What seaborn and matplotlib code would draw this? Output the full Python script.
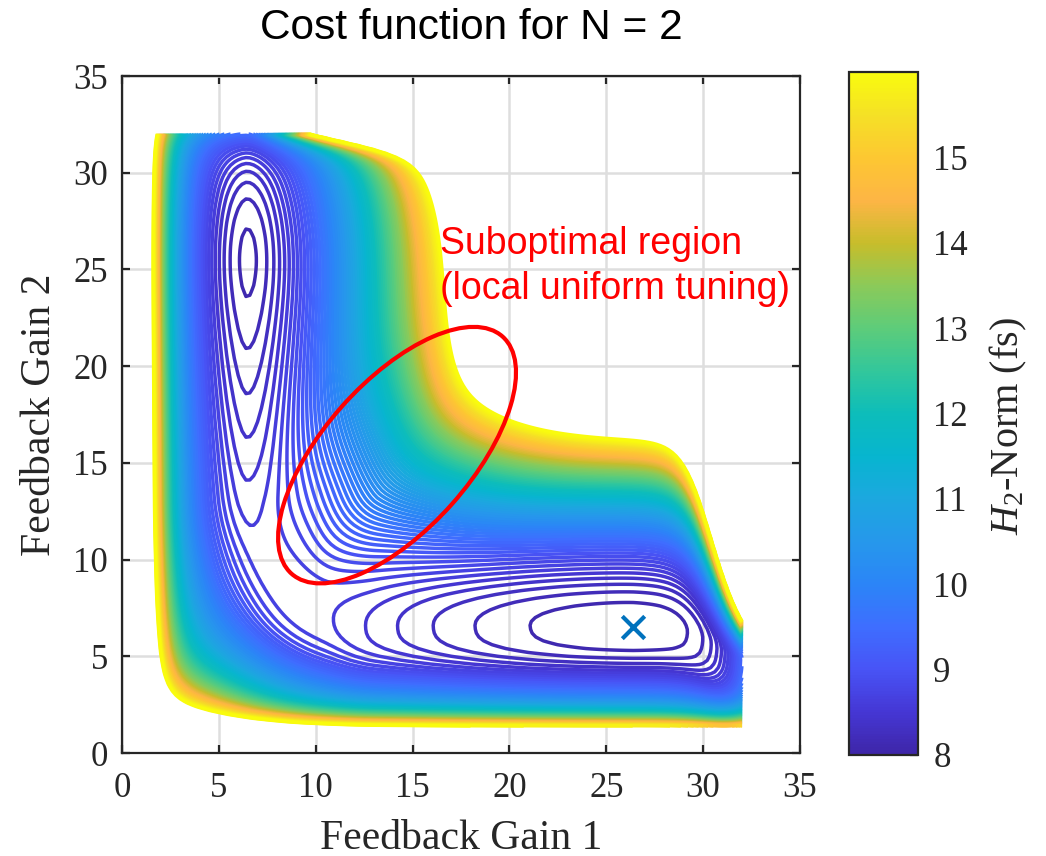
import numpy as np
import matplotlib
matplotlib.use("Agg")
import matplotlib.pyplot as plt
import seaborn as sns
from matplotlib.colors import LinearSegmentedColormap, Normalize
from matplotlib.cm import ScalarMappable
from matplotlib.patches import Ellipse

# ---------------- data ----------------
gain_range = [1.4, 32.0]          # sampled feedback-gain domain
valley_gain1 = [6.4, 26.4]        # local / global minimum, gain 1
valley_gain2 = [25.5, 6.5]        # local / global minimum, gain 2
valley_cost = [8.04, 8.02]        # cost at the two minima (fs)
saddle_cost = 8.64                # cost at the pass between the minima (fs)
optimum = [26.4, 6.5]             # marked optimum (x)
level_start, level_stop, level_step = 8.1, 16.0, 0.1
cbar_ticks = [8, 9, 10, 11, 12, 13, 14, 15]
axis_ticks = [0, 5, 10, 15, 20, 25, 30, 35]
region_center = [14.2, 15.4]
region_size = [16.4, 7.6]
region_angle = 48.4
region_text = ["Suboptimal region", "(local uniform tuning)"]
region_text_pos = [16.4, 25.8, 23.45]
parula_values = [8.0, 8.5, 9.0, 9.5, 10.0, 10.5, 11.0, 11.5, 12.0, 12.5,
                 13.0, 13.5, 14.0, 14.5, 15.0, 15.5, 16.0]
parula_colors = ["#3e26a8", "#4537d5", "#4854f6", "#3e6eff", "#2b85f7",
                 "#2698eb", "#1ca8df", "#07b5cf", "#0dbdba", "#32c79b",
                 "#5dcc7a", "#8bca59", "#c7bd2b", "#fdb545", "#fdc732",
                 "#f5e026", "#f9fb0e"]

# ---------------- cost surface ----------------
def sig(z):
    return 1.0 / (1.0 + np.exp(-z))

def softplus(z, s):
    return s * np.logaddexp(0.0, z / s)

g = np.arange(gain_range[0], gain_range[1] + 1e-9, 0.2)
X, Y = np.meshgrid(g, g)

# signed distance to the L-shaped valley floor (rounded corner)
R = 6.8
u = X - valley_gain1[0]
v = Y - (valley_gain2[1] - 2.0 * sig((X - 30.5) / 0.8))
qx, qy = R - u, R - v
nqx = np.clip(-qx, 1e-9, None)
nqy = np.clip(-qy, 1e-9, None)
neg = (nqx ** -2 + nqy ** -2) ** -0.5
N = np.sqrt(np.clip(qx, 0, None) ** 2 + np.clip(qy, 0, None) ** 2) - neg
m_sdf = R - N
m_soft = (np.clip(u, 1e-6, None) ** -4 + np.clip(v, 1e-6, None) ** -4) ** -0.25
lam = np.exp(-np.clip(m_sdf, 0, None) / 3.0)
m = np.where(m_sdf > 0, lam * m_sdf + (1 - lam) * m_soft, m_sdf)
w = sig((v - u) / 1.5)                 # 1 on the vertical arm, 0 on the horizontal arm
kappa = np.exp(-((v - u) / 6.0) ** 2)  # 1 along the corner diagonal
mp = np.clip(m, 0, None)
mn = np.clip(-m, 0, None)

topmult = 1 + 4.5 * np.exp((Y - 32) / 0.4) + 0.45 * np.exp((Y - 32) / 2.0)
rB = 1 + 28 * np.exp((X - 32) / 0.65)
PA = 0.13 * mp ** 1.79 * topmult
PB = 0.0436 * mp ** 2.31 * rB
PC = 0.01 * mp ** 2.9
NA = np.where(mn < 3, 0.13 * mn ** 1.79, 0.934 + 0.5546 * (mn - 3))
NB = np.where(mn < 2.5, 0.036 * mn ** 3,
              0.5625 + 0.675 * (mn - 2.5) + 0.1 * (mn - 2.5) ** 2)
cross = ((1 - kappa) * (w * PA + (1 - w) * PB) + kappa * PC
         + w * NA + (1 - w) * NB)

cap = saddle_cost - 8 - 0.04
dA = Y - valley_gain2[0]
gA_low = 0.0459 * (np.sqrt(dA ** 2 + 4.84) - 2.2)
gA_low = gA_low - softplus(gA_low - cap, 0.02)
gA = np.where(dA < 0, gA_low, 0.012 * dA ** 2) + 0.9 * np.exp((Y - 32) / 0.8)
dB = X - valley_gain1[1]
gB_low = 0.11 * (np.sqrt(dB ** 2 + 400) - 20)
gB_low = gB_low - softplus(gB_low - cap, 0.02)
gB = np.where(dB < 0, gB_low, 0.0049 * (np.exp(np.clip(dB, 0, None)) - 1))
along = w * (valley_cost[0] - 8 + gA) + (1 - w) * (valley_cost[1] - 8 + gB)

Z = (8 + along + cross + 6.8 * np.exp(-(X - 1.5) / 0.89)
     + 4.8 * np.exp(-(Y - 1.4) / 0.7))

levels = np.arange(level_start, level_stop + 1e-9, level_step)

# ---------------- style ----------------
sns.set_theme(style="white")
plt.rcParams["font.family"] = ["Liberation Serif", "DejaVu Serif"]
plt.rcParams["mathtext.fontset"] = "custom"
plt.rcParams["mathtext.rm"] = "Liberation Serif"
plt.rcParams["mathtext.it"] = "Liberation Serif:italic"
dark = "#262626"

cmap = LinearSegmentedColormap.from_list(
    "parula", list(zip([(v_ - 8) / 8 for v_ in parula_values], parula_colors)))
norm = Normalize(vmin=8, vmax=16)

fig = plt.figure(figsize=(10.46, 8.56), dpi=100)
ax = fig.add_axes([0.1166, 0.1203, 0.6482, 0.7909])
cax = fig.add_axes([0.8117, 0.1180, 0.0660, 0.7979])

ax.set_axisbelow(True)
ax.grid(True, color="#dedede", lw=1.8, zorder=0)

ax.contour(X, Y, Z, levels=levels, cmap=cmap, norm=norm, linewidths=2.5, zorder=2)

ell = Ellipse(region_center, region_size[0], region_size[1], angle=region_angle,
              fill=False, edgecolor="red", lw=3.0, zorder=4)
ax.add_patch(ell)
ax.text(region_text_pos[0], region_text_pos[1], region_text[0], color="red",
        fontsize=27, family="Liberation Sans", va="baseline", ha="left", zorder=5)
ax.text(region_text_pos[0], region_text_pos[2], region_text[1], color="red",
        fontsize=27, family="Liberation Sans", va="baseline", ha="left", zorder=5)

sns.scatterplot(x=[optimum[0]], y=[optimum[1]], marker="x", s=260, color="#0072BD",
                linewidth=3, ax=ax, zorder=6, legend=False)

ax.set_xlim(0, 35)
ax.set_ylim(0, 35)
ax.set_xticks(axis_ticks)
ax.set_yticks(axis_ticks)
ax.tick_params(direction="in", length=6, width=1.6, labelsize=25, pad=10,
               colors=dark, top=True, right=True, bottom=True, left=True)
ax.tick_params(axis="x", pad=14)
for s in ax.spines.values():
    s.set_visible(True)
    s.set_color(dark)
    s.set_linewidth(1.6)
ax.set_xlabel("Feedback Gain 1", fontsize=30, color=dark, labelpad=10)
ax.set_ylabel("Feedback Gain 2", fontsize=30, color=dark, labelpad=10)

fig.text(471 / 1046, 1 - 39 / 856, "Cost function for N = 2", ha="center",
         va="baseline", family="Liberation Sans", fontsize=30.5, color="black")

sm = ScalarMappable(norm=norm, cmap=cmap)
cb = fig.colorbar(sm, cax=cax)
cb.set_ticks(cbar_ticks)
cb.outline.set_linewidth(1.6)
cb.outline.set_edgecolor(dark)
cax.tick_params(direction="in", length=6, width=1.6, labelsize=25, pad=11, colors=dark)
fig.text(1008 / 1046, 1 - 426 / 856, r"$H_2$-Norm (fs)", rotation=90, ha="center",
         va="center", fontsize=29, color=dark)

fig.savefig("out.png", dpi=100)
